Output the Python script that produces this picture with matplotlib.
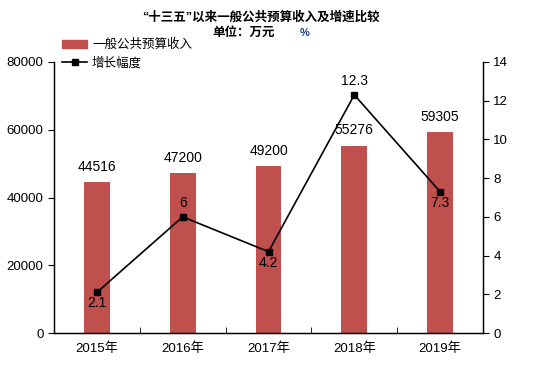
import numpy as np
import matplotlib.pyplot as plt
from matplotlib.patches import Patch
from matplotlib.lines import Line2D

plt.rcParams['font.family'] = ['Liberation Sans', 'Noto Sans CJK SC', 'DejaVu Sans']

# data
years = ['2015年', '2016年', '2017年', '2018年', '2019年']
revenue = [44516, 47200, 49200, 55276, 59305]
growth = [2.1, 6, 4.2, 12.3, 7.3]
growth_labels = ['2.1', '6', '4.2', '12.3', '7.3']
growth_above = [False, True, False, True, False]

fig = plt.figure(figsize=(5.54, 3.70), dpi=100)
ax = fig.add_axes([54 / 554, 1 - 333 / 370, 429 / 554, 271 / 370])
x = np.arange(len(years))

ax.bar(x, revenue, width=0.30, color='#C0504D', zorder=1)
ax.set_xlim(-0.5, len(years) - 0.5)
ax.set_ylim(0, 80000)
ax.set_yticks(np.arange(0, 80001, 20000))
ax.set_xticks(x)
ax.set_xticklabels(years, fontsize=9.5)
ax.tick_params(axis='x', length=0, pad=7)
ax.set_xticks(np.arange(0.5, len(years) - 0.5), minor=True)
ax.tick_params(axis='x', which='minor', direction='in', length=4)
ax.tick_params(axis='y', direction='out', length=4, labelsize=9.5)
ax.spines['top'].set_visible(False)
for s in ['left', 'bottom', 'right']:
    ax.spines[s].set_linewidth(1.0)

for xi, v in zip(x, revenue):
    ax.text(xi, v + 2500, str(v), ha='center', va='bottom', fontsize=10)

ax2 = ax.twinx()
ax2.plot(x, growth, color='black', lw=1.2, marker='s', ms=5, zorder=3)
ax2.set_ylim(0, 14)
ax2.set_yticks(np.arange(0, 15, 2))
ax2.tick_params(axis='y', direction='out', length=4, labelsize=9.5)
ax2.spines['top'].set_visible(False)
for xi, g, lab, up in zip(x, growth, growth_labels, growth_above):
    if up:
        ax2.text(xi, g + 0.35, lab, ha='center', va='bottom', fontsize=10)
    else:
        ax2.text(xi, g - 0.2, lab, ha='center', va='top', fontsize=10)

fig.text(261 / 554, 1 - 17 / 370, '“十三五”以来一般公共预算收入及增速比较', ha='center', va='center',
         fontsize=9, fontweight='bold')
fig.text(244 / 554, 1 - 33 / 370, '单位：万元', ha='center', va='center',
         fontsize=9, fontweight='bold')
fig.text(305 / 554, 1 - 33 / 370, '%', ha='center', va='center',
         fontsize=8, fontweight='bold', color='#1F3F7F')

handles = [Patch(color='#C0504D'),
           Line2D([0], [0], color='black', lw=1.2, marker='s', ms=5)]
fig.legend(handles, ['一般公共预算收入', '增长幅度'], loc='upper left',
           bbox_to_anchor=(62 / 554, 1 - 39 / 370), frameon=False, fontsize=9,
           handlelength=2.0, handletextpad=0.4, labelspacing=0.45, borderpad=0,
           borderaxespad=0)

fig.savefig('out.png', dpi=100)
